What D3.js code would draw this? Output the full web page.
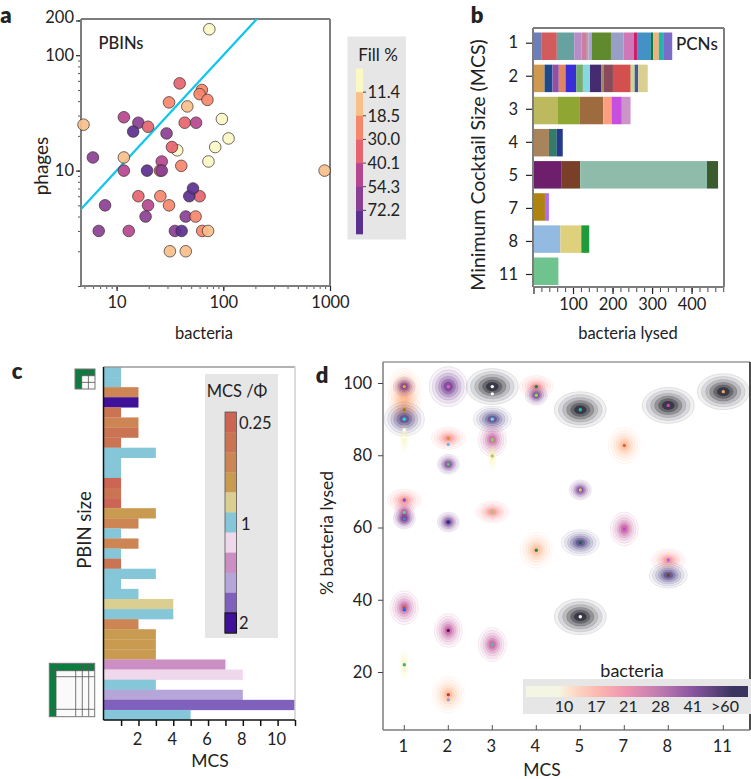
<!DOCTYPE html>
<html><head><meta charset="utf-8">
<script src="https://cdn.jsdelivr.net/npm/d3@7"></script>
<style>
html,body{margin:0;padding:0;background:#fff}
svg{display:block}
text{font-family:Lato,"Open Sans",sans-serif;fill:#222}
.domain{display:none}
</style></head><body>
<svg id="c" width="751" height="779"></svg>
<script>
// ---------- panel a
const pbinBacteria=[74,39,63,60,71,31,46,4.9,11.7,16,14.3,19.7,43.5,55.6,97,29.4,112,37,33,84,72.6,6,11.7,11.7,19.3,26.5,25.5,26.5,40.4,60,48,52,16,25.7,7.8,19.7,31,18.7,44.5,55,6.8,13,35.2,40.7,63.5,72,31.6,44.5,890];
const pbinPhages=[168,57,50,46,41,39,36,25,29,26,21.8,24,26,26,28,21,19,15,16,16,12,13,13,10,10,12,10,10,11,6,6,7,6,6,5,5,5,4,4,4,3,3,3,3,3,3,2,2,10];
const pbinFill=[8,35,25,25,25,22,15,15,50,62,75,35,35,50,8,60,8,8,35,8,8,72,15,50,75,50,35,60,22,35,75,75,35,22,60,50,22,62,55,22,62,50,62,85,25,15,15,15,15];
const fillTicks=[11.4,18.5,30.0,40.1,54.3,72.2];
const fillColors=["#fbf8c4","#f9bf8a","#f6876b","#e5646f","#b5468f","#8a3f94","#5b3090"];
const phageTicks=[10,100,200];
const bactTicks=[10,100,1000];
// ---------- panel b
const mcsCats=["1","2","3","4","5","7","8","11"];
const pcnWidths=[
 [21,38,44,19,13,4,8,49,32,26,8,35,6,14,13,21],
 [28,20,16,17,27,17,18,29,5,24,45,10,9,24],
 [62,54,1.5,59,21,26,22],
 [39,20,15],
 [70,48,321,28],
 [29,10],
 [68,53,20],
 [63]];
const pcnColors=[
 ["#6e7fb8","#d25b5e","#66a3a0","#b58ec9","#cc7da0","#8cc06f","#b0a0e0","#5f8a2d","#9a9fc8","#cf78b8","#cc1f6e","#4292c6","#0f7a3e","#eeb27a","#25b3ac","#7c6cc9"],
 ["#cf9a4f","#1f4a8a","#9150a8","#e08464","#3a2fd6","#74ad6e","#87d8e0","#452c70","#a08a5e","#8a4a5c","#d4504e","#c8d890","#46569e","#d9cf90"],
 ["#bcb95e","#8fa632","#8060b0","#9d6b3e","#fd9e80","#c74fe0","#cc94c8"],
 ["#a8845c","#367a6a","#26388f"],
 ["#6e1f6b","#7a3f28","#8fbcaa","#3a5c2e"],
 ["#ad8410","#b36cf0"],
 ["#93bbe2","#dfd07c","#1f9a3c"],
 ["#6fc38f"]];
// ---------- panel c
const pbinMcs=[1,1,2,2,1,2,2,1,3,1,1,1,1,1,3,2,1,2,1,1,3,1,2,4,4,2,3,3,3,7,8,3,8,11,5];
const pbinPhi=[5,5,2,10,1,2,1,1,5,5,5,0,1,0,3,2,5,2,5,1,5,5,5,4,5,2,3,3,3,7,6,5,8,9,5];
const phiColors=["#cc6554","#cb7454","#cc8553","#c89b50","#dacf90","#85c6d8","#f0d8ec","#cc8fc3","#b5a5d8","#7f60bd","#3f1199"];
const phiLabels=[["0.25",0],["1",5],["2",10]];
// ---------- panel d
const blobMcs=["1","1","1","1","1","1","1","1","1","1","1","2","2","2","2","2","2","3","3","3","3","3","3","4","4","4","5","5","5","5","7","7","8","8","8","11"];
const blobPct=[99,95.8,99,92.6,90,85,67.6,64.2,62.4,37.8,22,99,84.7,77.5,61.5,31.5,13.7,99,90,84.3,79.8,64.3,27.6,99,96.6,53.7,92.6,70.4,55.8,35.3,82.7,59.6,93.8,51,46.8,97.6];
const blobBact=[14,14,33,14,45,8,19,23,33,24,8,38,19,33,33,24,14,70,50,24,8,19,24,19,33,14,70,33,50,70,14,24,70,19,50,70];
const blobShapes=new Map([[8,[4,15]],[14,[16,18]],[19,[17,11]],[23,[10,12]],[24,[14,17]],[33,[11,10]],[38,[19,20]],[45,[20,17]],[50,[19,13]],[70,[26,18]]]);
const dotMcs=["1","1","1","1","1","1","1","1","1","1","1","2","2","2","2","2","2","2","2","3","3","3","3","3","3","3","4","4","4","5","5","5","5","7","7","8","8","8","11"];
const dotPct=[99,92.6,90,87,85,67.6,64.2,62.4,37.8,37.2,22,99,84.7,83,77.5,61.5,31.5,13.7,12.3,99,97,90,84.3,79.8,64.3,27.6,99,96.6,53.7,92.6,70.4,55.8,35.3,82.7,59.6,93.8,51,46.8,97.6];
const dotColors=["#f0a050","#a07a10","#10e0f0","#ffffff","#ffffff","#7a50c0","#60d090","#5080c0","#a06030","#1070f0","#40b090","#e060c0","#e08a40","#70b8f0","#60c060","#203090","#601070","#d03040","#9aa0d0","#ffffff","#ffffff","#70d0f0","#70e040","#c0c060","#90d070","#60b0a0","#208040","#90e040","#408040","#20c0b0","#d0c080","#206040","#ffffff","#e06040","#d040d0","#d040c0","#b060f0","#7a3f28","#f0a860"];
const bactBins=[10,17,21,28,41,60];
const bactColors=["#f8f3a8","#fba878","#f8706e","#bb3f8e","#632a86","#42367e","#1c1c28"];
const bactStrength=[1.2,1,1,1.2,1.5,1.45,1.7];
const bactLegendLabels=["10","17","21","28","41",">60"];
const legendStops=["#f5f5e3","#f5f5e3","#fbe0cc","#fdb8b0","#ee95b0","#c07bb0","#8a55a0","#3a3560","#3a3560"];
const pctTicks=[20,40,60,80,100];

const svg=d3.select("#c");
const defs=svg.append("defs");
defs.append("filter").attr("id","soft").append("feGaussianBlur").attr("stdDeviation",0.45);
function label(x,y,t,z,opt={}){
  const e=svg.append("text").attr("x",x).attr("y",y).attr("text-anchor",opt.anchor||"middle").attr("dominant-baseline","central").style("font-size",z+"px").text(t);
  if(opt.rot)e.attr("transform",`rotate(${opt.rot} ${x} ${y})`);
  if(opt.bold)e.style("font-weight",opt.bold);
  return e;
}
function boxLines(l,t,r,b,cols,w=2){
  [[l,t,r,t,cols[0]],[r,t,r,b,cols[1]],[l,b,r,b,cols[2]],[l,t,l,b,cols[3]]].forEach(d=>{
    svg.append("line").attr("x1",d[0]).attr("y1",d[1]).attr("x2",d[2]).attr("y2",d[3]).attr("stroke",d[4]).attr("stroke-width",w);
  });
}
function styleAxis(g,z,col="#333",w=1.2){
  g.selectAll(".tick line").attr("stroke",col).attr("stroke-width",w);
  g.selectAll(".tick text").style("font-size",z+"px").style("font-family","Lato,sans-serif").attr("fill","#222");
}
// ====== panel letters
label(6,14,"a",22,{bold:800});
label(477,14,"b",22,{bold:800});
label(17,370,"c",22,{bold:800});
label(322,374,"d",22,{bold:800});

// ====== A
const ax=d3.scaleLog().domain([4.64,1000]).range([81,330]);
const ay=d3.scaleLog().domain([1,206]).range([286,19]);
const minorOf=(lo,hi)=>{const o=[];for(let e=lo;e<hi;e++)for(let m=1;m<10;m++){o.push(m*10**e);}return o;};
defs.append("clipPath").attr("id","clipA").append("rect").attr("x",81).attr("y",19).attr("width",249).attr("height",267);
let g=svg.append("g").attr("transform","translate(0,286)").call(d3.axisBottom(ax).tickValues(minorOf(0,3).filter(v=>v>=5&&v<=1000)).tickSize(3).tickFormat(""));styleAxis(g,16,"#555",1);
g=svg.append("g").attr("transform","translate(0,286)").call(d3.axisBottom(ax).tickValues(bactTicks).tickSize(5).tickPadding(5).tickFormat(d3.format("d")));styleAxis(g,16.5,"#222",1.2);
g=svg.append("g").attr("transform","translate(81,0)").call(d3.axisLeft(ay).tickValues(minorOf(0,2).concat([200]).filter(v=>v>=1)).tickSize(3).tickFormat(""));styleAxis(g,16,"#555",1);
g=svg.append("g").attr("transform","translate(81,0)").call(d3.axisLeft(ay).tickValues(phageTicks).tickSize(5).tickPadding(2).tickFormat(d3.format("d")));styleAxis(g,16.5,"#222",1.2);
g.selectAll(".tick text").filter(d=>d===200).attr("dy","0.1em");
boxLines(81,19,330,286,["#7d7d7d","#7d7d7d","#7d7d7d","#7d7d7d"]);
svg.append("line").attr("clip-path","url(#clipA)").attr("x1",ax(4)).attr("y1",ay(4)).attr("x2",ax(300)).attr("y2",ay(300)).attr("stroke","#0cc6ef").attr("stroke-width",2.2);
const fillScale=d3.scaleThreshold().domain(fillTicks).range(fillColors);
svg.append("g").selectAll("circle").data(pbinBacteria).join("circle")
 .attr("cx",d=>ax(d)).attr("cy",(d,i)=>ay(pbinPhages[i])).attr("r",5.8)
 .attr("fill",(d,i)=>fillScale(pbinFill[i])).attr("fill-opacity",.92).attr("stroke","#3a2a2a").attr("stroke-width",.7);
label(121,43,"PBINs",16.5,{bold:500});
label(40,166,"phages",19,{rot:-90});
label(204,333,"bacteria",16.5);
// Fill legend
svg.append("rect").attr("x",347.5).attr("y",36.5).attr("width",58.5).attr("height",203).attr("fill","#e6e6e6");
label(378,54.5,"Fill %",17);
const fy=d3.scaleBand().domain(fillColors).range([68.5,234]);
svg.append("g").selectAll("rect").data(fillColors).join("rect").attr("x",356).attr("y",d=>fy(d)).attr("width",7).attr("height",fy.bandwidth()+.3).attr("fill",d=>d);
fillTicks.forEach((t,i)=>{const y=fy(fillColors[i+1]);
  svg.append("line").attr("x1",363).attr("x2",366).attr("y1",y).attr("y2",y).attr("stroke","#444").attr("stroke-width",1);
  label(367.5,y,t.toFixed(1),16.5,{anchor:"start"});});

// ====== B
const bx=d3.scaleLinear().domain([0,482]).range([533.5,724]);
const bBand=d3.scaleBand().domain(mcsCats).range([32.5,285]).paddingInner(.145);
const bTick=d3.scalePoint().domain(mcsCats).range([42.7,274]);
pcnWidths.forEach((row,ri)=>{
  let acc=0;
  row.forEach((w,i)=>{
    svg.append("rect").attr("x",bx(acc)).attr("y",bBand(mcsCats[ri])).attr("width",bx(acc+w)-bx(acc)).attr("height",bBand.bandwidth()).attr("fill",pcnColors[ri][i]);
    acc+=w;
  });
});
g=svg.append("g").attr("transform","translate(0,287)").call(d3.axisBottom(bx).tickValues(d3.range(20,481,20)).tickSize(5).tickFormat(""));styleAxis(g,16,"#444",1);
g=svg.append("g").attr("transform","translate(0,287)").call(d3.axisBottom(bx).tickValues([0,100,200,300,400]).tickSize(7).tickPadding(4).tickFormat(d=>d?d:""));styleAxis(g,16.5,"#222",1.2);
g=svg.append("g").attr("transform","translate(533,0)").call(d3.axisLeft(bTick).tickSize(7).tickPadding(8));styleAxis(g,16.5,"#222",1.2);
boxLines(533,28,724,287,["#7d7d7d","#7d7d7d","#7d7d7d","#7d7d7d"]);
label(676,43,"PCNs",17,{anchor:"start",bold:500});
label(477,165,"Minimum Cocktail Size (MCS)",19.5,{rot:-90});
label(628,333,"bacteria lysed",16.5);

// ====== C
const cx=d3.scaleLinear().domain([0,11]).range([103.7,295]);
const cy=d3.scaleBand().domain(d3.range(pbinMcs.length)).range([367,720]);
svg.append("g").selectAll("rect").data(pbinMcs).join("rect").attr("x",cx(0)).attr("y",(d,i)=>cy(i)).attr("width",d=>cx(d)-cx(0)).attr("height",cy.bandwidth()+.2).attr("fill",(d,i)=>phiColors[pbinPhi[i]]);
boxLines(103.5,367,295,720,["#9a9a9a","#cfcfcf","#111","#111"],1.5);
g=svg.append("g").attr("transform","translate(0,720)").call(d3.axisBottom(cx).tickValues(d3.range(1,12)).tickSize(6).tickFormat(""));styleAxis(g,16,"#111",1.5);
g=svg.append("g").attr("transform","translate(-1.5,720)").call(d3.axisBottom(cx).tickValues([2,4,6,8,10]).tickSize(0).tickPadding(13).tickFormat(d3.format("d")));styleAxis(g,16.5,"#222",0);
label(210,760,"MCS",17.5);
label(84,530,"PBIN size",18.5,{rot:-90});
svg.append("rect").attr("x",205).attr("y",374).attr("width",73).attr("height",264).attr("fill","#e6e6e6");
label(237,391,"MCS /Φ",16.5);
const phiY=d3.scaleBand().domain(d3.range(phiColors.length)).range([412,633]);
svg.append("g").selectAll("rect").data(phiColors).join("rect").attr("x",225).attr("y",(d,i)=>phiY(i)).attr("width",11.5).attr("height",phiY.bandwidth()+.3).attr("fill",d=>d);
svg.append("rect").attr("x",225).attr("y",412).attr("width",11.5).attr("height",221).attr("fill","none").attr("stroke","#555").attr("stroke-width",.8);
svg.append("rect").attr("x",225).attr("y",phiY(10)).attr("width",11.5).attr("height",phiY.bandwidth()).attr("fill","none").attr("stroke","#111").attr("stroke-width",1);
phiLabels.forEach(([t,i])=>label(t==="1"?241:239,phiY(i)+phiY.bandwidth()/2+(t==="1"?1:t==="2"?0:1),t,16.5,{anchor:"start"}));
// glyphs
function glyph(x0,y0,cols,rows){
  const xs=[x0];cols.forEach(c=>xs.push(xs[xs.length-1]+c));
  const ys=[y0];rows.forEach(c=>ys.push(ys[ys.length-1]+c));
  const X=xs[xs.length-1],Y=ys[ys.length-1];
  svg.append("rect").attr("x",x0).attr("y",y0).attr("width",X-x0).attr("height",Y-y0).attr("fill","#fafafa");
  svg.append("rect").attr("x",x0).attr("y",y0).attr("width",X-x0).attr("height",rows[0]).attr("fill","#0b7d3e");
  svg.append("rect").attr("x",x0).attr("y",y0).attr("width",cols[0]).attr("height",Y-y0).attr("fill","#0b7d3e");
  xs.slice(1,-1).forEach(v=>svg.append("line").attr("x1",v).attr("x2",v).attr("y1",y0).attr("y2",Y).attr("stroke","#555").attr("stroke-width",.8));
  ys.slice(1,-1).forEach(v=>svg.append("line").attr("y1",v).attr("y2",v).attr("x1",x0).attr("x2",X).attr("stroke","#555").attr("stroke-width",.8));
  svg.append("rect").attr("x",x0).attr("y",y0).attr("width",X-x0).attr("height",Y-y0).attr("fill","none").attr("stroke","#777").attr("stroke-width",1);
}
glyph(75,369,[6.7,6.7,6.6],[6.7,6.7,6.6]);
glyph(49.3,663.3,[6.7,19.7,6.6,6.4,6],[7.4,6,32.6,7.4]);

// ====== D
const dPos=d3.scaleOrdinal().domain(mcsCats).range([0,1,2,3,4,5,6,7.25]);
const dxL=d3.scaleLinear().domain([0,7.25]).range([404.3,723.3]);
const dx=c=>dxL(dPos(c));
const dy=d3.scaleLinear().domain([100,20]).range([383,672]);
const binIndex=d3.scaleThreshold().domain(bactBins).range(d3.range(7));
const rings=[1,.84,.68,.53,.38,.24];
const ringOp=[.035,.06,.1,.15,.22,.34];
const gd=svg.append("g").attr("filter","url(#soft)");
blobMcs.forEach((m,i)=>{
  const [rx,ry]=blobShapes.get(blobBact[i]);
  const bi=binIndex(blobBact[i]);
  const col=bactColors[bi];
  rings.forEach((r,k)=>{
    gd.append("ellipse").attr("cx",dx(m)).attr("cy",dy(blobPct[i])).attr("rx",rx*r).attr("ry",ry*r)
      .attr("fill",col).attr("fill-opacity",Math.min(.8,ringOp[k]*bactStrength[bi])).attr("stroke",col).attr("stroke-opacity",.2).attr("stroke-width",.5);
  });
});
svg.append("g").selectAll("circle").data(dotMcs).join("circle").attr("cx",d=>dx(d)).attr("cy",(d,i)=>dy(dotPct[i])).attr("r",1.7).attr("fill",(d,i)=>dotColors[i]);
boxLines(383,362,750,730,["#9a9a9a","#111","#7d7d7d","#7d7d7d"],1.5);
g=svg.append("g").attr("transform","translate(383,0)").call(d3.axisLeft(dy).tickValues(pctTicks).tickSize(5).tickPadding(6));styleAxis(g,16.5,"#444",1);
mcsCats.forEach(c=>{
  svg.append("line").attr("x1",dx(c)).attr("x2",dx(c)).attr("y1",725).attr("y2",730).attr("stroke","#555");
  label(dx(c)-1,745.5,c,16.5);
});
label(542,769,"MCS",17.5);
label(326,533,"% bacteria lysed",17.5,{rot:-90});
// bacteria legend
svg.append("rect").attr("x",523).attr("y",679).attr("width",228).attr("height",35).attr("fill","#e6e6e6");
const lg=defs.append("linearGradient").attr("id","bactGrad");
legendStops.forEach((c,i)=>lg.append("stop").attr("offset",[0,.15,.2,.32,.45,.6,.75,.93,.98][i]).attr("stop-color",c));
svg.append("rect").attr("x",526).attr("y",686).attr("width",222).attr("height",11).attr("fill","url(#bactGrad)");
const lx=d3.scalePoint().domain(bactLegendLabels).range([564,725]);
bactLegendLabels.forEach(t=>label(lx(t),705.5,t,16));
label(632,670,"bacteria",18);
</script>
</body></html>
